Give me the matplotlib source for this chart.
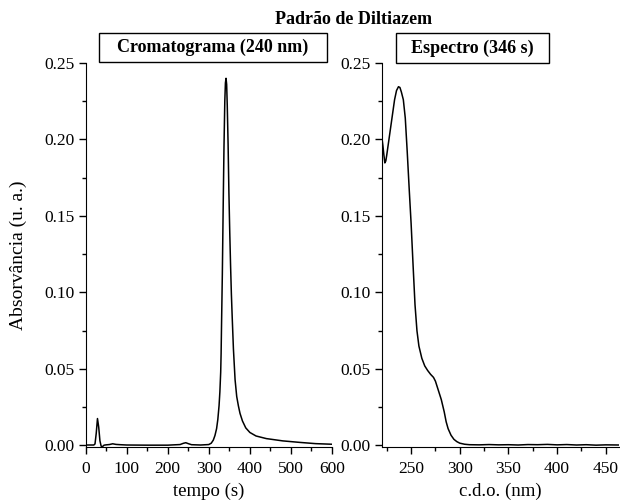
import matplotlib
matplotlib.use("Agg")
import matplotlib.pyplot as plt
from matplotlib.patches import Rectangle
from matplotlib.ticker import MultipleLocator, FormatStrFormatter

plt.rcParams['font.family'] = ['Liberation Serif', 'DejaVu Serif']

# cromatograma a 240 nm
tempo = [0, 10, 20, 23, 26, 29, 32, 35, 38, 41, 45, 50, 58, 66, 74, 85, 100,
         150, 200, 230, 238, 244, 250, 258, 280, 300, 306, 311, 315, 319, 322,
         325, 327, 329, 330, 331, 333, 335, 337, 339, 340.5, 342, 343.5, 345, 347,
         349, 351, 353, 355, 357, 360, 364, 368, 372, 376, 382, 390, 400, 415,
         440, 480, 522, 560, 600]
abs_crom = [0.0003, 0.0003, 0.0003, 0.001, 0.008, 0.0176, 0.012, 0.003, -0.0005,
            -0.0008, 0.0002, 0.0004, 0.0006, 0.0011, 0.0007, 0.0005, 0.0003,
            0.0002, 0.0002, 0.0006, 0.0014, 0.0018, 0.0012, 0.0005, 0.0003,
            0.0006, 0.0015, 0.0035, 0.0065, 0.011, 0.017, 0.026, 0.035, 0.048,
            0.06, 0.078, 0.112, 0.155, 0.195, 0.225, 0.237, 0.240, 0.236, 0.222,
            0.197, 0.165, 0.14, 0.118, 0.099, 0.084, 0.063, 0.043, 0.032, 0.026,
            0.021, 0.016, 0.0115, 0.0085, 0.0062, 0.0045, 0.003, 0.002, 0.0012,
            0.0008]

# espectro a 346 s
cdo = [220, 221, 222, 223, 224, 225, 227, 229, 231, 233, 235, 237, 238.5, 240,
       242, 244, 246, 248, 250, 252, 254, 256, 258, 261, 264, 267, 270, 273,
       275, 278, 281, 284, 286, 288, 291, 294, 297, 300, 305, 310, 320, 330,
       340, 350, 360, 370, 380, 390, 400, 410, 420, 430, 440, 450, 464]
abs_esp = [0.201, 0.196, 0.190, 0.1847, 0.186, 0.190, 0.199, 0.208, 0.217, 0.226,
           0.232, 0.2345, 0.234, 0.231, 0.226, 0.214, 0.192, 0.168, 0.145,
           0.118, 0.092, 0.075, 0.065, 0.057, 0.052, 0.049, 0.0465, 0.0445,
           0.042, 0.036, 0.030, 0.022, 0.0155, 0.011, 0.0067, 0.004, 0.0025,
           0.0015, 0.0008, 0.0005, 0.0004, 0.0006, 0.0004, 0.0005, 0.0003,
           0.0006, 0.0005, 0.0007, 0.0004, 0.0006, 0.0003, 0.0005, 0.0002,
           0.0004, 0.0003]

fig = plt.figure(figsize=(6.2, 5.0), dpi=100)
ax1 = fig.add_axes([0.138, 0.106, 0.3975, 0.768])
ax2 = fig.add_axes([0.616, 0.106, 0.383, 0.768])

ax1.plot(tempo, abs_crom, color='black', lw=1.1)
ax2.plot(cdo, abs_esp, color='black', lw=1.1)

ax1.set_xlim(0, 600)
ax2.set_xlim(220, 464)
for ax in (ax1, ax2):
    ax.set_ylim(-0.001, 0.25)
    ax.spines['top'].set_visible(False)
    ax.spines['right'].set_visible(False)
    ax.yaxis.set_major_locator(MultipleLocator(0.05))
    ax.yaxis.set_minor_locator(MultipleLocator(0.025))
    ax.yaxis.set_major_formatter(FormatStrFormatter('%.2f'))
    ax.tick_params(which='major', direction='out', length=5, width=1,
                   labelsize=12.5)
    ax.tick_params(axis='y', which='major', pad=3)
    ax.tick_params(axis='x', which='major', pad=5)
    ax.tick_params(which='minor', direction='out', length=3, width=1)
ax1.xaxis.set_major_locator(MultipleLocator(100))
ax1.xaxis.set_minor_locator(MultipleLocator(50))
ax2.xaxis.set_major_locator(MultipleLocator(50))
ax2.xaxis.set_minor_locator(MultipleLocator(25))

ax1.set_xlabel('tempo (s)', fontsize=13.5, labelpad=4)
ax2.set_xlabel('c.d.o. (nm)', fontsize=13.5, labelpad=4)
fig.text(0.029, 0.49, 'Absorvância (u. a.)', rotation=90, ha='center',
         va='center', fontsize=14)

fig.text(0.571, 0.96, 'Padrão de Diltiazem', ha='center', va='center',
         fontsize=13, fontweight='bold')

fig.patches.append(Rectangle((0.1597, 0.876), 0.3677, 0.058, transform=fig.transFigure,
                             fill=False, edgecolor='black', lw=1))
fig.text(0.3435, 0.905, 'Cromatograma (240 nm)', ha='center', va='center',
         fontsize=13, fontweight='bold')
fig.patches.append(Rectangle((0.6387, 0.874), 0.2468, 0.06, transform=fig.transFigure,
                             fill=False, edgecolor='black', lw=1))
fig.text(0.762, 0.904, 'Espectro (346 s)', ha='center', va='center',
         fontsize=13, fontweight='bold')

fig.savefig('out.png', dpi=100)
